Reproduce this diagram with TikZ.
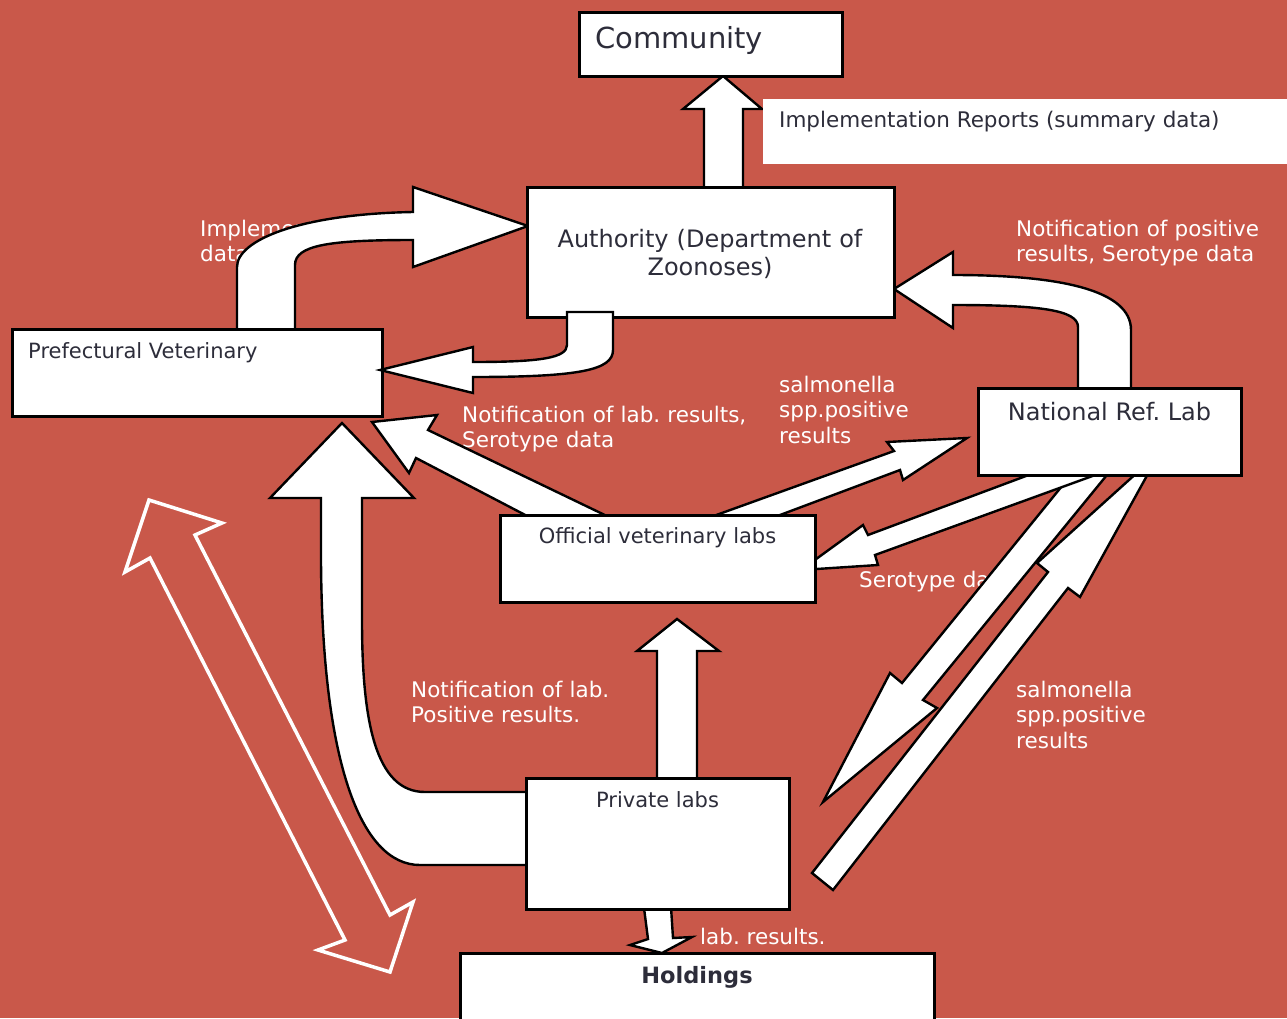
\documentclass[tikz,border=0pt]{standalone}
\usepackage{fontspec}
\setmainfont{DejaVu Sans}
\frenchspacing
\definecolor{bgred}{RGB}{201,88,74}
\definecolor{inkgray}{RGB}{45,45,58}
\tikzset{
  box/.style={draw=black, fill=white, line width=3pt, inner sep=0pt, outer sep=0pt, anchor=north west},
  boxtext/.style={text=inkgray, inner sep=0pt, font=\fontsize{21}{25}\selectfont},
  note/.style={text=white, inner sep=0pt, align=left, font=\fontsize{21.5}{25.5}\selectfont},
  blockarrow/.style={draw=black, fill=white, line width=2.4pt, line join=miter},
  hollowarrow/.style={draw=white, line width=3.5pt, line join=miter}
}
\begin{document}
\begin{tikzpicture}[x=1pt,y=-1pt]
\useasboundingbox (0,0) rectangle (1287,1018);
\fill[bgred] (0,0) rectangle (1287,1018);

% labels behind the arrows
\node[note, text width=200pt, anchor=base west] (impltxt) at (200,236) {Implementation\\data};
\node[note, text width=160pt, anchor=base west] (serotxt) at (859,587) {Serotype data};
\node[note, text width=270pt, anchor=base west] (nrlnote) at (1016,236) {Notification of positive\\results, Serotype data};
\node[note, text width=160pt, anchor=base west] (salmtop) at (779,392) {salmonella\\spp.positive\\results};
\node[note, text width=300pt, anchor=base west] (offnote) at (462,422) {Notification of lab. results,\\Serotype data};
\node[note, text width=220pt, anchor=base west] (privnote) at (411,697) {Notification of lab.\\Positive results.};
\node[note, text width=160pt, anchor=base west] (salmlow) at (1016,697) {salmonella\\spp.positive\\results};
\node[note, anchor=base west] (labres) at (700,944) {lab. results.};

% block arrows
\draw[blockarrow] (237,330) -- (237,267) .. controls (237,240) and (300,214) .. (413,212) -- (413,187) -- (528,226) -- (413,267) -- (413,240) .. controls (330,240) and (295,245) .. (295,265) -- (295,330) -- cycle;
\draw[blockarrow] (1078,390) -- (1078,327) .. controls (1078,310) and (1040,305) .. (953,305) -- (953,328) -- (894,289) -- (953,252) -- (953,275) .. controls (1060,275) and (1131,290) .. (1131,330) -- (1131,390) -- cycle;
\draw[blockarrow] (530,865) -- (420,865) .. controls (360,865) and (322,760) .. (321,560) -- (321,498) -- (270,498) -- (342,423) -- (414,498) -- (362,498) -- (362,620) .. controls (362,720) and (375,792) .. (425,792) -- (530,792) -- cycle;
\draw[blockarrow] (657,780) -- (657,651) -- (637,651) -- (677,619) -- (719,651) -- (697,651) -- (697,780) -- cycle;
\draw[blockarrow] (644,908) -- (671,907) -- (673,938) -- (692,937) -- (662,953) -- (630,945) -- (648,939) -- cycle;
\draw[blockarrow] (531,518) -- (416,458) -- (409,473) -- (372,422) -- (437,415) -- (428,430) -- (611,518) -- cycle;
\draw[blockarrow] (708,518) -- (894,451) -- (887,442) -- (967,438) -- (903,480) -- (900,470) -- (772,518) -- cycle;
\draw[blockarrow] (1075,470) -- (1111,470) -- (923,700) -- (937,708) -- (823,802) -- (890,673) -- (902,683) -- cycle;
\draw[blockarrow] (1160,452) -- (1080,597) -- (1068,588) -- (833,890) -- (812,873) -- (1048,572) -- (1037,563) -- cycle;
\draw[blockarrow] (801,570) -- (863,525) -- (868,535) -- (1042,470) -- (1109,470) -- (875,555) -- (878,565) -- cycle;
\draw[blockarrow] (704,188) -- (704,109) -- (683,109) -- (723,76) -- (762,109) -- (743,109) -- (743,188) -- cycle;
\draw[hollowarrow] (149,500) -- (222,523) -- (195,535) -- (390,915) -- (413,902) -- (390,972) -- (318,950) -- (345,940) -- (150,558) -- (125,572) -- cycle;

% boxes
\node[box, minimum width=263pt, minimum height=64pt] (comm) at (579,12) {};
\node[fill=white, inner sep=0pt, outer sep=0pt, anchor=north west, minimum width=540pt, minimum height=65pt] (reports) at (763,99) {};
\node[box, minimum width=367pt, minimum height=130pt] (auth) at (527,187) {};
\node[box, minimum width=370pt, minimum height=87pt] (prefv) at (12,329) {};
\node[box, minimum width=263pt, minimum height=87pt] (nrl) at (978,388) {};
\node[box, minimum width=315pt, minimum height=87pt] (offlab) at (500,515) {};
\node[box, minimum width=263pt, minimum height=131pt] (privlab) at (526,778) {};
\node[box, minimum width=474pt, minimum height=90pt] (hold) at (460,953) {};

\node[boxtext, anchor=base west, font=\fontsize{29}{34}\selectfont] (commtxt) at (595,48) {Community};
\node[boxtext, anchor=base west, font=\fontsize{21.5}{25}\selectfont] (reptxt) at (779,127) {Implementation Reports (summary data)};
\node[boxtext, anchor=base, text width=360pt, align=center, font=\fontsize{24}{28}\selectfont] (authtxt) at (710,247) {Authority (Department of\\Zoonoses)};
\node[boxtext, anchor=base west] (prefvtxt) at (28,358) {Prefectural Veterinary};
\node[boxtext, anchor=base, font=\fontsize{24}{28}\selectfont] (nrltxt) at (1109.5,420) {National Ref. Lab};
\node[boxtext, anchor=base] (offtxt) at (657.5,543) {Official veterinary labs};
\node[boxtext, anchor=base] (privtxt) at (657.5,807) {Private labs};
\node[boxtext, anchor=base, font=\fontsize{22.5}{27}\selectfont\bfseries] (holdtxt) at (697,983) {Holdings};

% hook arrow over the authority box
\draw[blockarrow] (567,312) -- (613,312) -- (613,350) .. controls (613,370) and (580,377) .. (473,377) -- (473,393) -- (380,370) -- (473,347) -- (473,362) .. controls (540,362) and (567,358) .. (567,345) -- cycle;
\end{tikzpicture}
\end{document}
